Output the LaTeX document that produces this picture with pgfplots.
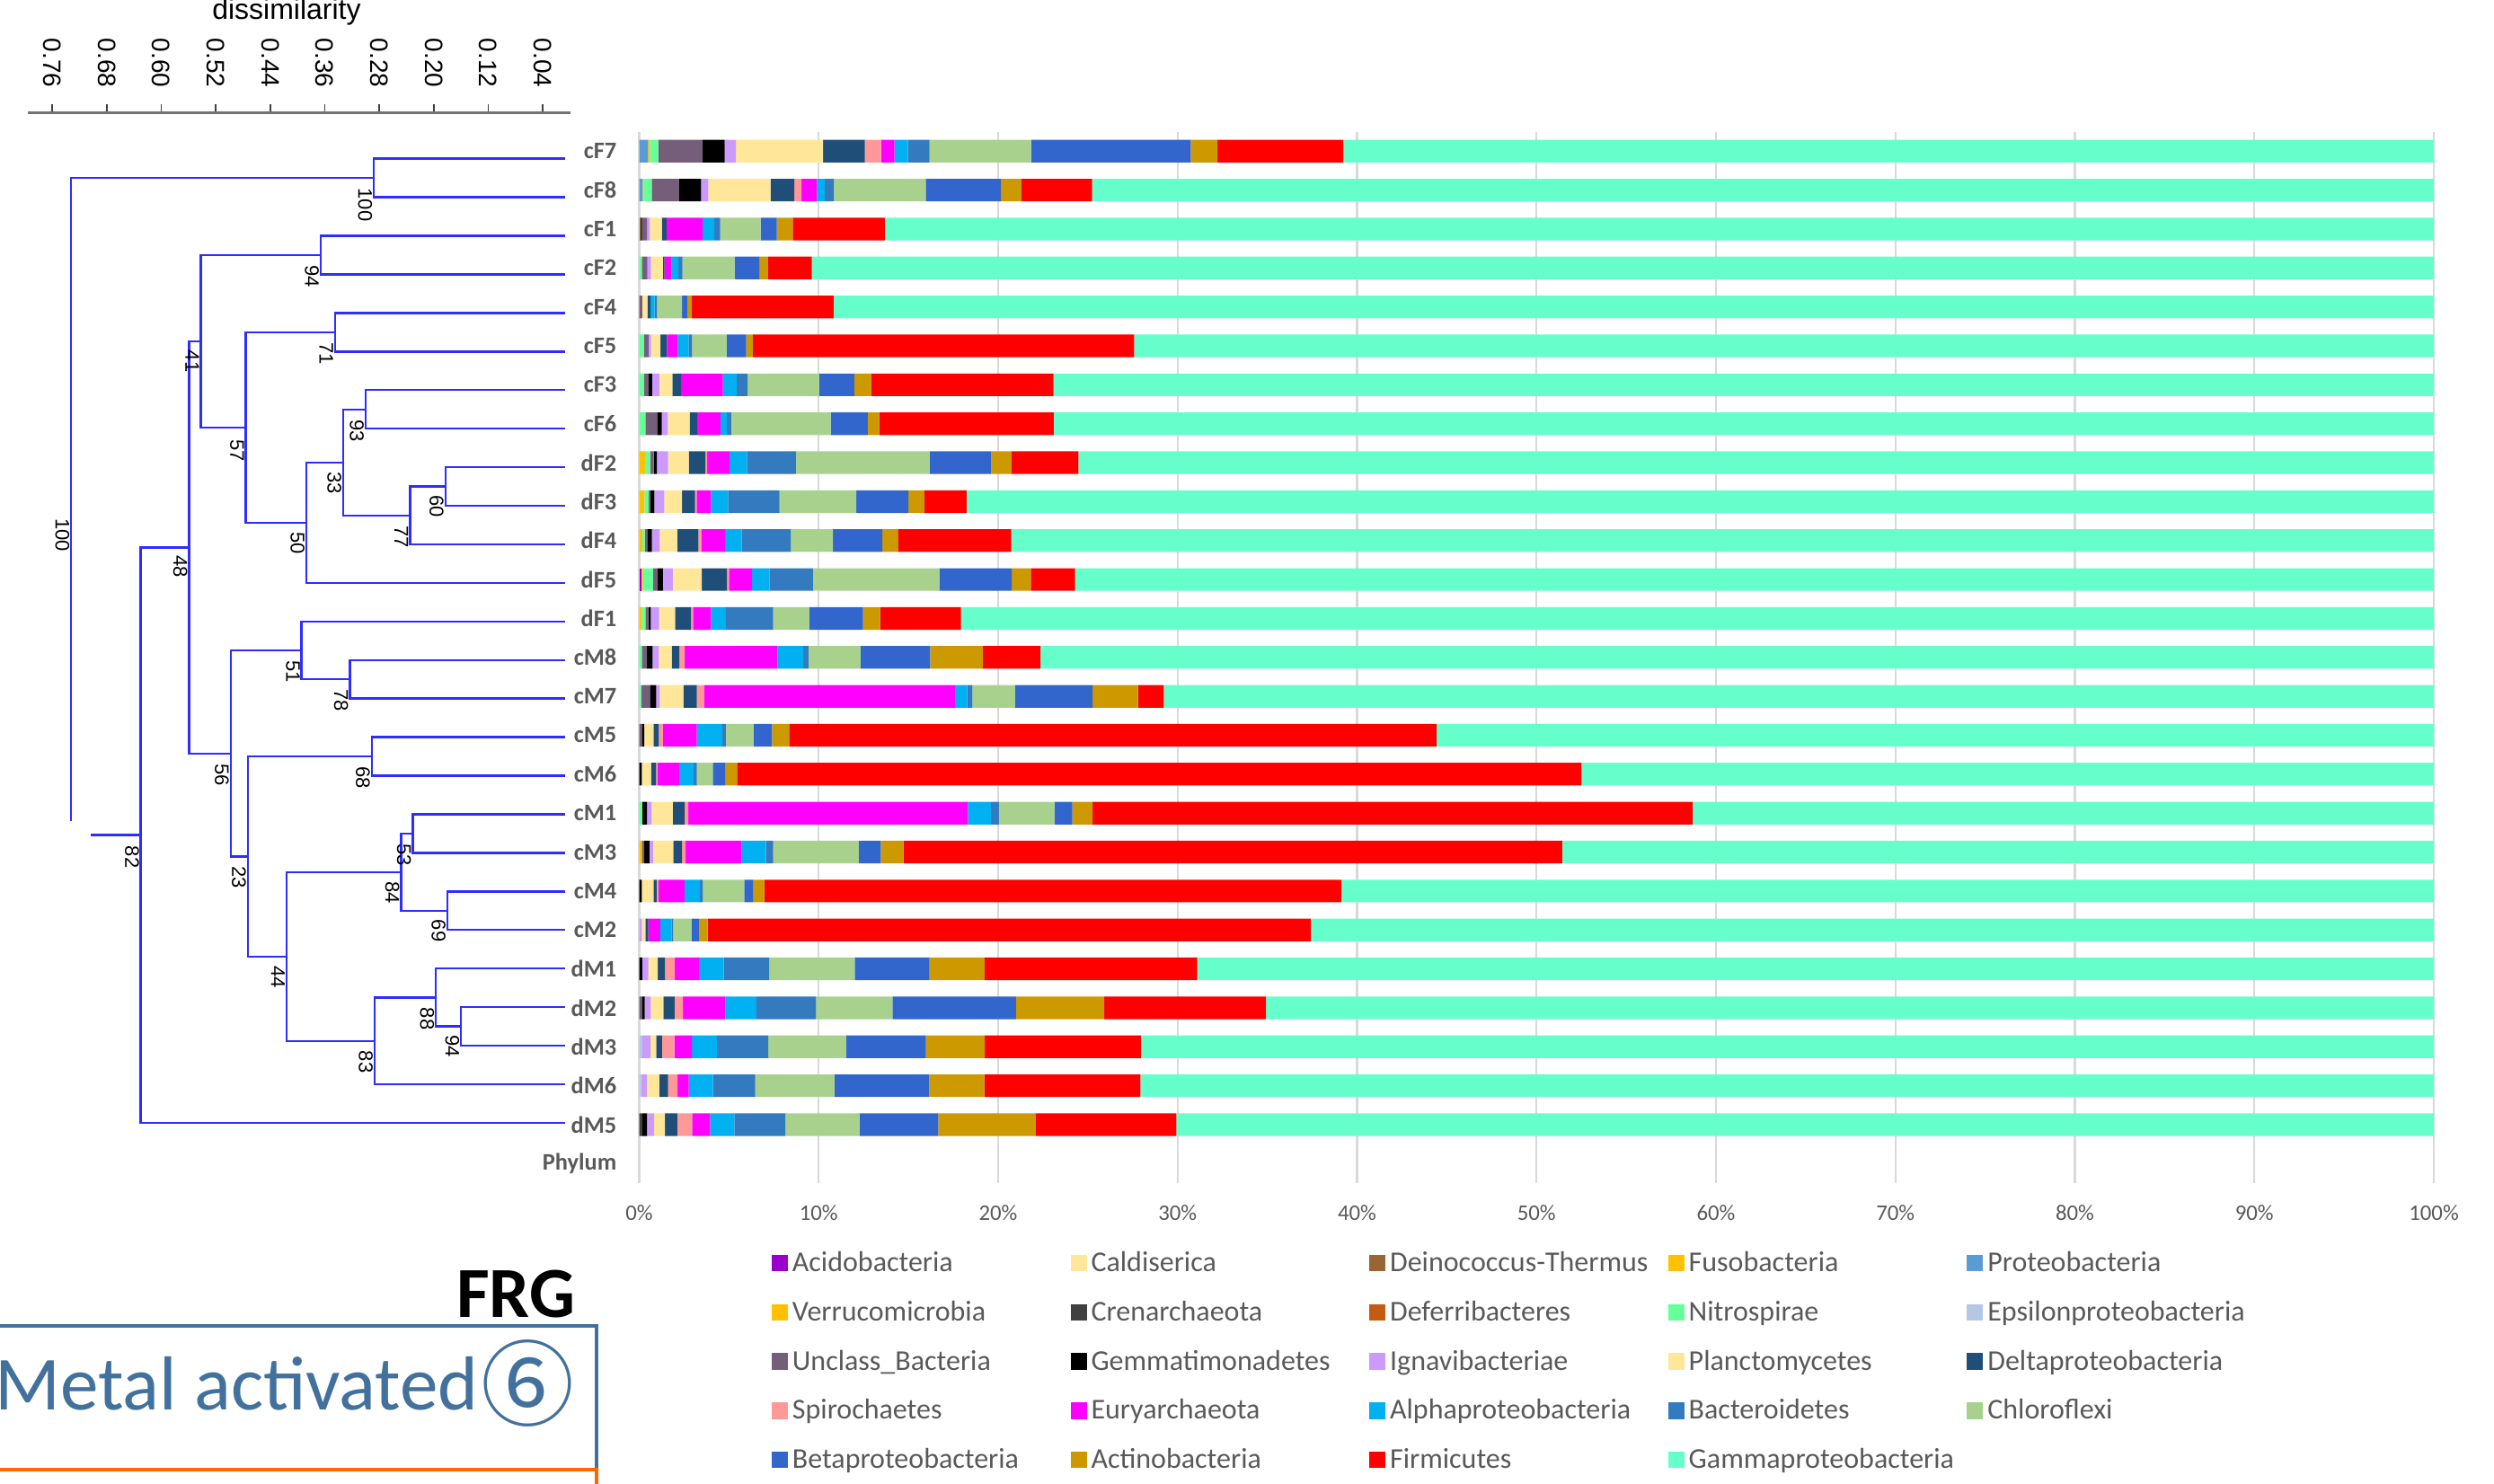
\documentclass[border=0pt]{standalone}
\usepackage{fontspec}
\setmainfont{Carlito}
\newfontfamily\arialf{Liberation Sans}
\newfontfamily\cjk{Noto Sans CJK SC}
\usepackage{pgfplots}
\usepackage{pgfplotstable}
\pgfplotsset{compat=1.18}

\definecolor{cAci}{HTML}{9900CC}
\definecolor{cCal}{HTML}{FFE699}
\definecolor{cDei}{HTML}{996633}
\definecolor{cFus}{HTML}{FFC000}
\definecolor{cPro}{HTML}{5B9BD5}
\definecolor{cVer}{HTML}{FFC000}
\definecolor{cCre}{HTML}{404040}
\definecolor{cDef}{HTML}{C55A11}
\definecolor{cNit}{HTML}{66FF99}
\definecolor{cEps}{HTML}{B4C7E7}
\definecolor{cUnc}{HTML}{755E7A}
\definecolor{cGem}{HTML}{000000}
\definecolor{cIgn}{HTML}{CC99FF}
\definecolor{cPla}{HTML}{FFE699}
\definecolor{cDel}{HTML}{1F4E79}
\definecolor{cSpi}{HTML}{FF9999}
\definecolor{cEur}{HTML}{FF00FF}
\definecolor{cAlp}{HTML}{00B0F0}
\definecolor{cBac}{HTML}{337ABF}
\definecolor{cChl}{HTML}{A9D18E}
\definecolor{cBet}{HTML}{3366CC}
\definecolor{cAct}{HTML}{CC9900}
\definecolor{cFir}{HTML}{FF0000}
\definecolor{cGam}{HTML}{66FFCC}
\definecolor{lbl}{HTML}{595959}
\definecolor{dend}{RGB}{45,45,255}
\definecolor{boxblue}{HTML}{41719C}
\definecolor{boxorange}{HTML}{FF6600}
\definecolor{gridc}{HTML}{D9D9D9}

\tikzset{
  dl/.style={draw=dend, line width=0.6pt},
  bs/.style={rotate=-90, anchor=north west, font=\arialf\fontsize{5.5}{6}\selectfont, inner sep=0.3pt},
}

\pgfplotstableread{
r Aci Cal Dei Fus Pro Ver Cre Def Nit Eps Unc Gem Ign Pla Del Spi Eur Alp Bac Chl Bet Act Fir Gam
0 0 0 0 0 0.5 0.1 0 0 0.46 0 2.47 1.23 0.63 4.85 2.33 0.9 0.75 0.75 1.2 5.66 8.9 1.49 7.01 60.77
-1 0 0 0 0 0.2 0.05 0 0 0.45 0 1.52 1.23 0.4 3.47 1.32 0.4 0.86 0.43 0.52 5.11 4.19 1.15 3.94 74.76
-2 0 0 0.07 0 0 0 0.1 0 0 0 0.26 0 0.17 0.66 0.26 0 2.01 0.66 0.32 2.26 0.89 0.89 5.14 86.31
-3 0 0 0 0 0 0 0 0 0.14 0 0.32 0 0.2 0.66 0.09 0 0.4 0.37 0.23 2.9 1.41 0.46 2.44 90.38
-4 0 0 0 0 0 0 0 0 0 0 0.17 0 0 0.29 0.17 0 0 0.23 0.14 1.38 0.29 0.26 7.9 89.17
-5 0 0 0 0 0 0 0 0 0.26 0 0.26 0 0.14 0.52 0.37 0 0.6 0.6 0.2 1.92 1.09 0.37 21.25 72.42
-6 0 0 0 0 0 0 0 0 0.26 0 0.26 0.2 0.4 0.72 0.49 0 2.33 0.78 0.6 3.99 1.95 0.95 10.16 76.91
-7 0 0 0 0 0 0 0 0 0.34 0 0.66 0.26 0.34 1.21 0.43 0 1.29 0.34 0.26 5.54 2.07 0.63 9.73 76.9
-8 0 0 0 0.32 0 0 0 0 0.29 0 0.2 0.17 0.63 1.15 0.92 0.11 1.23 0.98 2.73 7.44 3.45 1.12 3.73 75.53
-9 0 0 0 0.29 0 0 0 0 0.23 0 0.09 0.23 0.55 1.0 0.72 0.09 0.8 0.95 2.87 4.28 2.9 0.89 2.35 81.76
-10 0 0 0 0.17 0 0 0 0 0.14 0 0.14 0.26 0.43 0.98 1.18 0.17 1.32 0.92 2.73 2.35 2.76 0.86 6.32 79.27
-11 0.11 0 0 0.1 0 0 0 0 0.56 0 0.26 0.29 0.55 1.61 1.41 0.11 1.29 0.98 2.41 7.06 4.02 1.06 2.47 75.71
-12 0 0 0 0.14 0 0 0 0 0.2 0 0.17 0.14 0.46 0.89 0.89 0.11 1.0 0.83 2.64 2.01 2.99 0.95 4.51 82.07
-13 0 0 0 0 0 0 0 0 0.14 0 0.29 0.32 0.34 0.72 0.43 0.29 5.17 1.44 0.29 2.9 3.88 2.93 3.22 77.64
-14 0 0 0 0 0 0 0 0 0.11 0 0.49 0.34 0.2 1.32 0.75 0.4 13.98 0.69 0.29 2.38 4.31 2.53 1.44 70.77
-15 0 0 0 0 0 0 0 0 0 0 0.14 0.14 0 0.52 0.29 0.23 1.89 1.41 0.2 1.55 1.03 0.95 36.09 55.56
-16 0 0 0 0 0 0 0 0 0 0 0 0.14 0 0.52 0.29 0.06 1.23 0.8 0.17 0.89 0.69 0.66 47.06 47.49
-17 0 0 0 0 0 0 0 0 0.17 0 0 0.26 0.26 1.18 0.66 0.2 15.59 1.29 0.43 3.1 1.0 1.12 33.45 41.29
-18 0 0 0 0.14 0 0 0 0 0 0 0.14 0.29 0.2 1.12 0.49 0.2 3.13 1.35 0.4 4.77 1.23 1.26 36.71 48.57
-19 0 0 0 0 0 0 0 0 0 0 0 0.14 0 0.66 0.17 0.11 1.44 0.86 0.17 2.3 0.52 0.6 32.16 60.87
-20 0 0 0 0 0 0 0 0 0 0 0 0 0.14 0.2 0.17 0 0.66 0.63 0.09 1.03 0.4 0.49 33.62 62.57
-21 0 0 0 0 0 0 0 0 0 0 0 0.17 0.34 0.52 0.4 0.55 1.35 1.38 2.53 4.77 4.16 3.07 11.86 68.9
-22 0 0 0 0 0 0 0 0 0 0 0.14 0.17 0.34 0.69 0.63 0.46 2.38 1.72 3.33 4.25 6.89 4.91 9.02 65.07
-23 0 0 0 0 0 0 0 0 0 0.17 0 0 0.46 0.32 0.32 0.69 0.98 1.38 2.87 4.34 4.45 3.27 8.7 72.05
-24 0 0 0 0 0 0 0 0 0 0.11 0 0 0.32 0.69 0.49 0.52 0.63 1.35 2.35 4.42 5.28 3.07 8.7 72.07
-25 0 0 0 0 0 0 0.17 0 0 0 0 0.26 0.4 0.6 0.69 0.83 1.0 1.35 2.84 4.13 4.39 5.43 7.84 70.07
}\bars

\newcommand{\legtxt}[1]{\hspace*{1.25pt}\makebox[77.4pt][l]{#1}}

\begin{document}
\begin{tikzpicture}
\useasboundingbox (0,0) rectangle (694pt,412.75pt);

% ---------------- dendrogram ----------------
\begin{axis}[
  at={(7.87pt,94.9pt)}, anchor=south west, scale only axis,
  width=150.78pt, height=286.35pt,
  xmin=0, xmax=0.795, x dir=reverse,
  ymin=-25.5, ymax=1.18,
  axis x line*=top, axis y line=none,
  x axis line style={draw=black!55, line width=0.75pt, -},
  xtick={0.04,0.12,0.20,0.28,0.36,0.44,0.52,0.60,0.68,0.76},
  xticklabels={0.04,0.12,0.20,0.28,0.36,0.44,0.52,0.60,0.68,0.76},
  tick align=outside, major tick length=2.5pt,
  xtick style={draw=black!75, line width=0.4pt},
  xticklabel style={rotate=-90, anchor=east, font=\arialf\fontsize{7}{8}\selectfont, inner sep=0pt},
  xticklabel shift=4.5pt,
  clip=false,
]
\addplot[dl] coordinates {(0.007,0) (0.288,0) (0.288,-1) (0.007,-1)};
\addplot[dl] coordinates {(0.007,-2) (0.366,-2) (0.366,-3) (0.007,-3)};
\addplot[dl] coordinates {(0.007,-4) (0.345,-4) (0.345,-5) (0.007,-5)};
\addplot[dl] coordinates {(0.007,-6) (0.300,-6) (0.300,-7) (0.007,-7)};
\addplot[dl] coordinates {(0.007,-8) (0.183,-8) (0.183,-9) (0.007,-9)};
\addplot[dl] coordinates {(0.183,-8.5) (0.235,-8.5) (0.235,-10) (0.007,-10)};
\addplot[dl] coordinates {(0.300,-6.5) (0.333,-6.5) (0.333,-9.25) (0.235,-9.25)};
\addplot[dl] coordinates {(0.333,-7.875) (0.387,-7.875) (0.387,-11) (0.007,-11)};
\addplot[dl] coordinates {(0.345,-4.5) (0.476,-4.5) (0.476,-9.4375) (0.387,-9.4375)};
\addplot[dl] coordinates {(0.366,-2.5) (0.542,-2.5) (0.542,-6.97) (0.476,-6.97)};
\addplot[dl] coordinates {(0.007,-13) (0.323,-13) (0.323,-14) (0.007,-14)};
\addplot[dl] coordinates {(0.007,-12) (0.394,-12) (0.394,-13.5) (0.323,-13.5)};
\addplot[dl] coordinates {(0.007,-15) (0.291,-15) (0.291,-16) (0.007,-16)};
\addplot[dl] coordinates {(0.007,-17) (0.231,-17) (0.231,-18) (0.007,-18)};
\addplot[dl] coordinates {(0.007,-19) (0.180,-19) (0.180,-20) (0.007,-20)};
\addplot[dl] coordinates {(0.231,-17.5) (0.248,-17.5) (0.248,-19.5) (0.180,-19.5)};
\addplot[dl] coordinates {(0.007,-22) (0.160,-22) (0.160,-23) (0.007,-23)};
\addplot[dl] coordinates {(0.007,-21) (0.197,-21) (0.197,-22.5) (0.160,-22.5)};
\addplot[dl] coordinates {(0.197,-21.75) (0.287,-21.75) (0.287,-24) (0.007,-24)};
\addplot[dl] coordinates {(0.248,-18.5) (0.416,-18.5) (0.416,-22.875) (0.287,-22.875)};
\addplot[dl] coordinates {(0.291,-15.5) (0.473,-15.5) (0.473,-20.6875) (0.416,-20.6875)};
\addplot[dl] coordinates {(0.394,-12.75) (0.498,-12.75) (0.498,-18.094) (0.473,-18.094)};
\addplot[dl] coordinates {(0.542,-4.734) (0.559,-4.734) (0.559,-15.422) (0.498,-15.422)};
\addplot[dl] coordinates {(0.559,-10.078) (0.630,-10.078) (0.630,-25) (0.007,-25)};
\addplot[dl] coordinates {(0.288,-0.5) (0.732,-0.5) (0.732,-17.17)};
\addplot[dl] coordinates {(0.704,-17.539) (0.630,-17.539)};

\node[bs] at (axis cs:0.288,-0.72) {100};
\node[bs] at (axis cs:0.366,-2.72) {94};
\node[bs] at (axis cs:0.345,-4.72) {71};
\node[bs] at (axis cs:0.300,-6.72) {93};
\node[bs] at (axis cs:0.183,-8.69) {60};
\node[bs] at (axis cs:0.235,-9.47) {77};
\node[bs] at (axis cs:0.333,-8.07) {33};
\node[bs] at (axis cs:0.387,-9.63) {50};
\node[bs] at (axis cs:0.476,-7.23) {57};
\node[bs] at (axis cs:0.542,-4.92) {41};
\node[bs] at (axis cs:0.323,-13.72) {78};
\node[bs] at (axis cs:0.394,-12.96) {51};
\node[bs] at (axis cs:0.291,-15.72) {68};
\node[bs] at (axis cs:0.231,-17.72) {53};
\node[bs] at (axis cs:0.180,-19.69) {69};
\node[bs] at (axis cs:0.248,-18.69) {84};
\node[bs] at (axis cs:0.160,-22.69) {94};
\node[bs] at (axis cs:0.197,-21.97) {88};
\node[bs] at (axis cs:0.287,-23.09) {83};
\node[bs] at (axis cs:0.416,-20.88) {44};
\node[bs] at (axis cs:0.473,-18.3) {23};
\node[bs] at (axis cs:0.498,-15.64) {56};
\node[bs] at (axis cs:0.559,-10.25) {48};
\node[bs] at (axis cs:0.630,-17.78) {82};
\node[bs] at (axis cs:0.732,-9.28) {100};
\end{axis}

% ---------------- stacked bars ----------------
\begin{axis}[
  at={(177.875pt,83.5pt)}, anchor=south west, scale only axis,
  width=499.375pt, height=292.6pt,
  xmin=0, xmax=100, ymin=-26.5, ymax=0.5,
  xbar stacked, bar width=6.3pt,
  axis line style={draw=none},
  xtick={0,10,20,30,40,50,60,70,80,90,100},
  xticklabels={0\%,10\%,20\%,30\%,40\%,50\%,60\%,70\%,80\%,90\%,100\%},
  xmajorgrids, grid style={draw=gridc, line width=0.6pt},
  major tick length=0pt,
  ytick={-26,-25,...,0},
  yticklabels={Phylum,dM5,dM6,dM3,dM2,dM1,cM2,cM4,cM3,cM1,cM6,cM5,cM7,cM8,dF1,dF5,dF4,dF3,dF2,cF6,cF3,cF5,cF4,cF2,cF1,cF8,cF7},
  yticklabel style={font=\bfseries\fontsize{6.6}{7}\selectfont, text=lbl, inner sep=0pt, xshift=-6.1pt},
  xticklabel style={font=\fontsize{6.2}{7}\selectfont, text=lbl, inner sep=0pt, yshift=-6pt},
  legend columns=5,
  legend style={at={(0.0738,-0.0637)}, anchor=north west, draw=none, fill=none,
    inner sep=0pt, outer sep=0pt, font=\fontsize{8}{9}\selectfont, text=lbl,
    /tikz/column sep=0pt, /tikz/row sep=6.5pt,
    nodes={inner sep=0pt, text height=6pt, text depth=1.2pt}},
  legend cell align=left,
  legend image code/.code={\draw[#1,draw=none] (0pt,-2.3pt) rectangle (4.5pt,2.3pt);},
]
\addplot+[fill=cAci, draw=none] table[x=Aci, y=r] {\bars}; \addlegendentry{\legtxt{Acidobacteria}}
\addplot+[fill=cCal, draw=none] table[x=Cal, y=r] {\bars}; \addlegendentry{\legtxt{Caldiserica}}
\addplot+[fill=cDei, draw=none] table[x=Dei, y=r] {\bars}; \addlegendentry{\legtxt{Deinococcus-Thermus}}
\addplot+[fill=cFus, draw=none] table[x=Fus, y=r] {\bars}; \addlegendentry{\legtxt{Fusobacteria}}
\addplot+[fill=cPro, draw=none] table[x=Pro, y=r] {\bars}; \addlegendentry{\legtxt{Proteobacteria}}
\addplot+[fill=cVer, draw=none] table[x=Ver, y=r] {\bars}; \addlegendentry{\legtxt{Verrucomicrobia}}
\addplot+[fill=cCre, draw=none] table[x=Cre, y=r] {\bars}; \addlegendentry{\legtxt{Crenarchaeota}}
\addplot+[fill=cDef, draw=none] table[x=Def, y=r] {\bars}; \addlegendentry{\legtxt{Deferribacteres}}
\addplot+[fill=cNit, draw=none] table[x=Nit, y=r] {\bars}; \addlegendentry{\legtxt{Nitrospirae}}
\addplot+[fill=cEps, draw=none] table[x=Eps, y=r] {\bars}; \addlegendentry{\legtxt{Epsilonproteobacteria}}
\addplot+[fill=cUnc, draw=none] table[x=Unc, y=r] {\bars}; \addlegendentry{\legtxt{Unclass\_Bacteria}}
\addplot+[fill=cGem, draw=none] table[x=Gem, y=r] {\bars}; \addlegendentry{\legtxt{Gemmatimonadetes}}
\addplot+[fill=cIgn, draw=none] table[x=Ign, y=r] {\bars}; \addlegendentry{\legtxt{Ignavibacteriae}}
\addplot+[fill=cPla, draw=none] table[x=Pla, y=r] {\bars}; \addlegendentry{\legtxt{Planctomycetes}}
\addplot+[fill=cDel, draw=none] table[x=Del, y=r] {\bars}; \addlegendentry{\legtxt{Deltaproteobacteria}}
\addplot+[fill=cSpi, draw=none] table[x=Spi, y=r] {\bars}; \addlegendentry{\legtxt{Spirochaetes}}
\addplot+[fill=cEur, draw=none] table[x=Eur, y=r] {\bars}; \addlegendentry{\legtxt{Euryarchaeota}}
\addplot+[fill=cAlp, draw=none] table[x=Alp, y=r] {\bars}; \addlegendentry{\legtxt{Alphaproteobacteria}}
\addplot+[fill=cBac, draw=none] table[x=Bac, y=r] {\bars}; \addlegendentry{\legtxt{Bacteroidetes}}
\addplot+[fill=cChl, draw=none] table[x=Chl, y=r] {\bars}; \addlegendentry{\legtxt{Chloroflexi}}
\addplot+[fill=cBet, draw=none] table[x=Bet, y=r] {\bars}; \addlegendentry{\legtxt{Betaproteobacteria}}
\addplot+[fill=cAct, draw=none] table[x=Act, y=r] {\bars}; \addlegendentry{\legtxt{Actinobacteria}}
\addplot+[fill=cFir, draw=none] table[x=Fir, y=r] {\bars}; \addlegendentry{\legtxt{Firmicutes}}
\addplot+[fill=cGam, draw=none] table[x=Gam, y=r] {\bars}; \addlegendentry{\legtxt{Gammaproteobacteria}}
\end{axis}

% ---------------- texts and box ----------------
\node[font=\arialf\fontsize{8}{9}\selectfont, anchor=base, inner sep=0pt] at (79.75pt,407.25pt) {dissimilarity};
\node[font=\bfseries\fontsize{20}{22}\selectfont, anchor=base east, inner sep=0pt] at (160.25pt,46pt) {FRG};
\draw[boxblue, line width=0.8pt] (-5pt,43.75pt) -- (166pt,43.75pt) -- (166pt,3.75pt);
\draw[boxorange, line width=1pt] (-5pt,3.75pt) -- (166pt,3.75pt) -- (166pt,-5pt);
\node[font=\fontsize{21.3}{24}\selectfont, text=boxblue, anchor=base west, inner sep=0pt] at (-1.6pt,20.25pt) {Metal activated};
\node[font=\cjk\fontsize{26}{28}\selectfont, text=boxblue, anchor=base, inner sep=0pt] at (146.9pt,18pt) {⑥};
\end{tikzpicture}
\end{document}
